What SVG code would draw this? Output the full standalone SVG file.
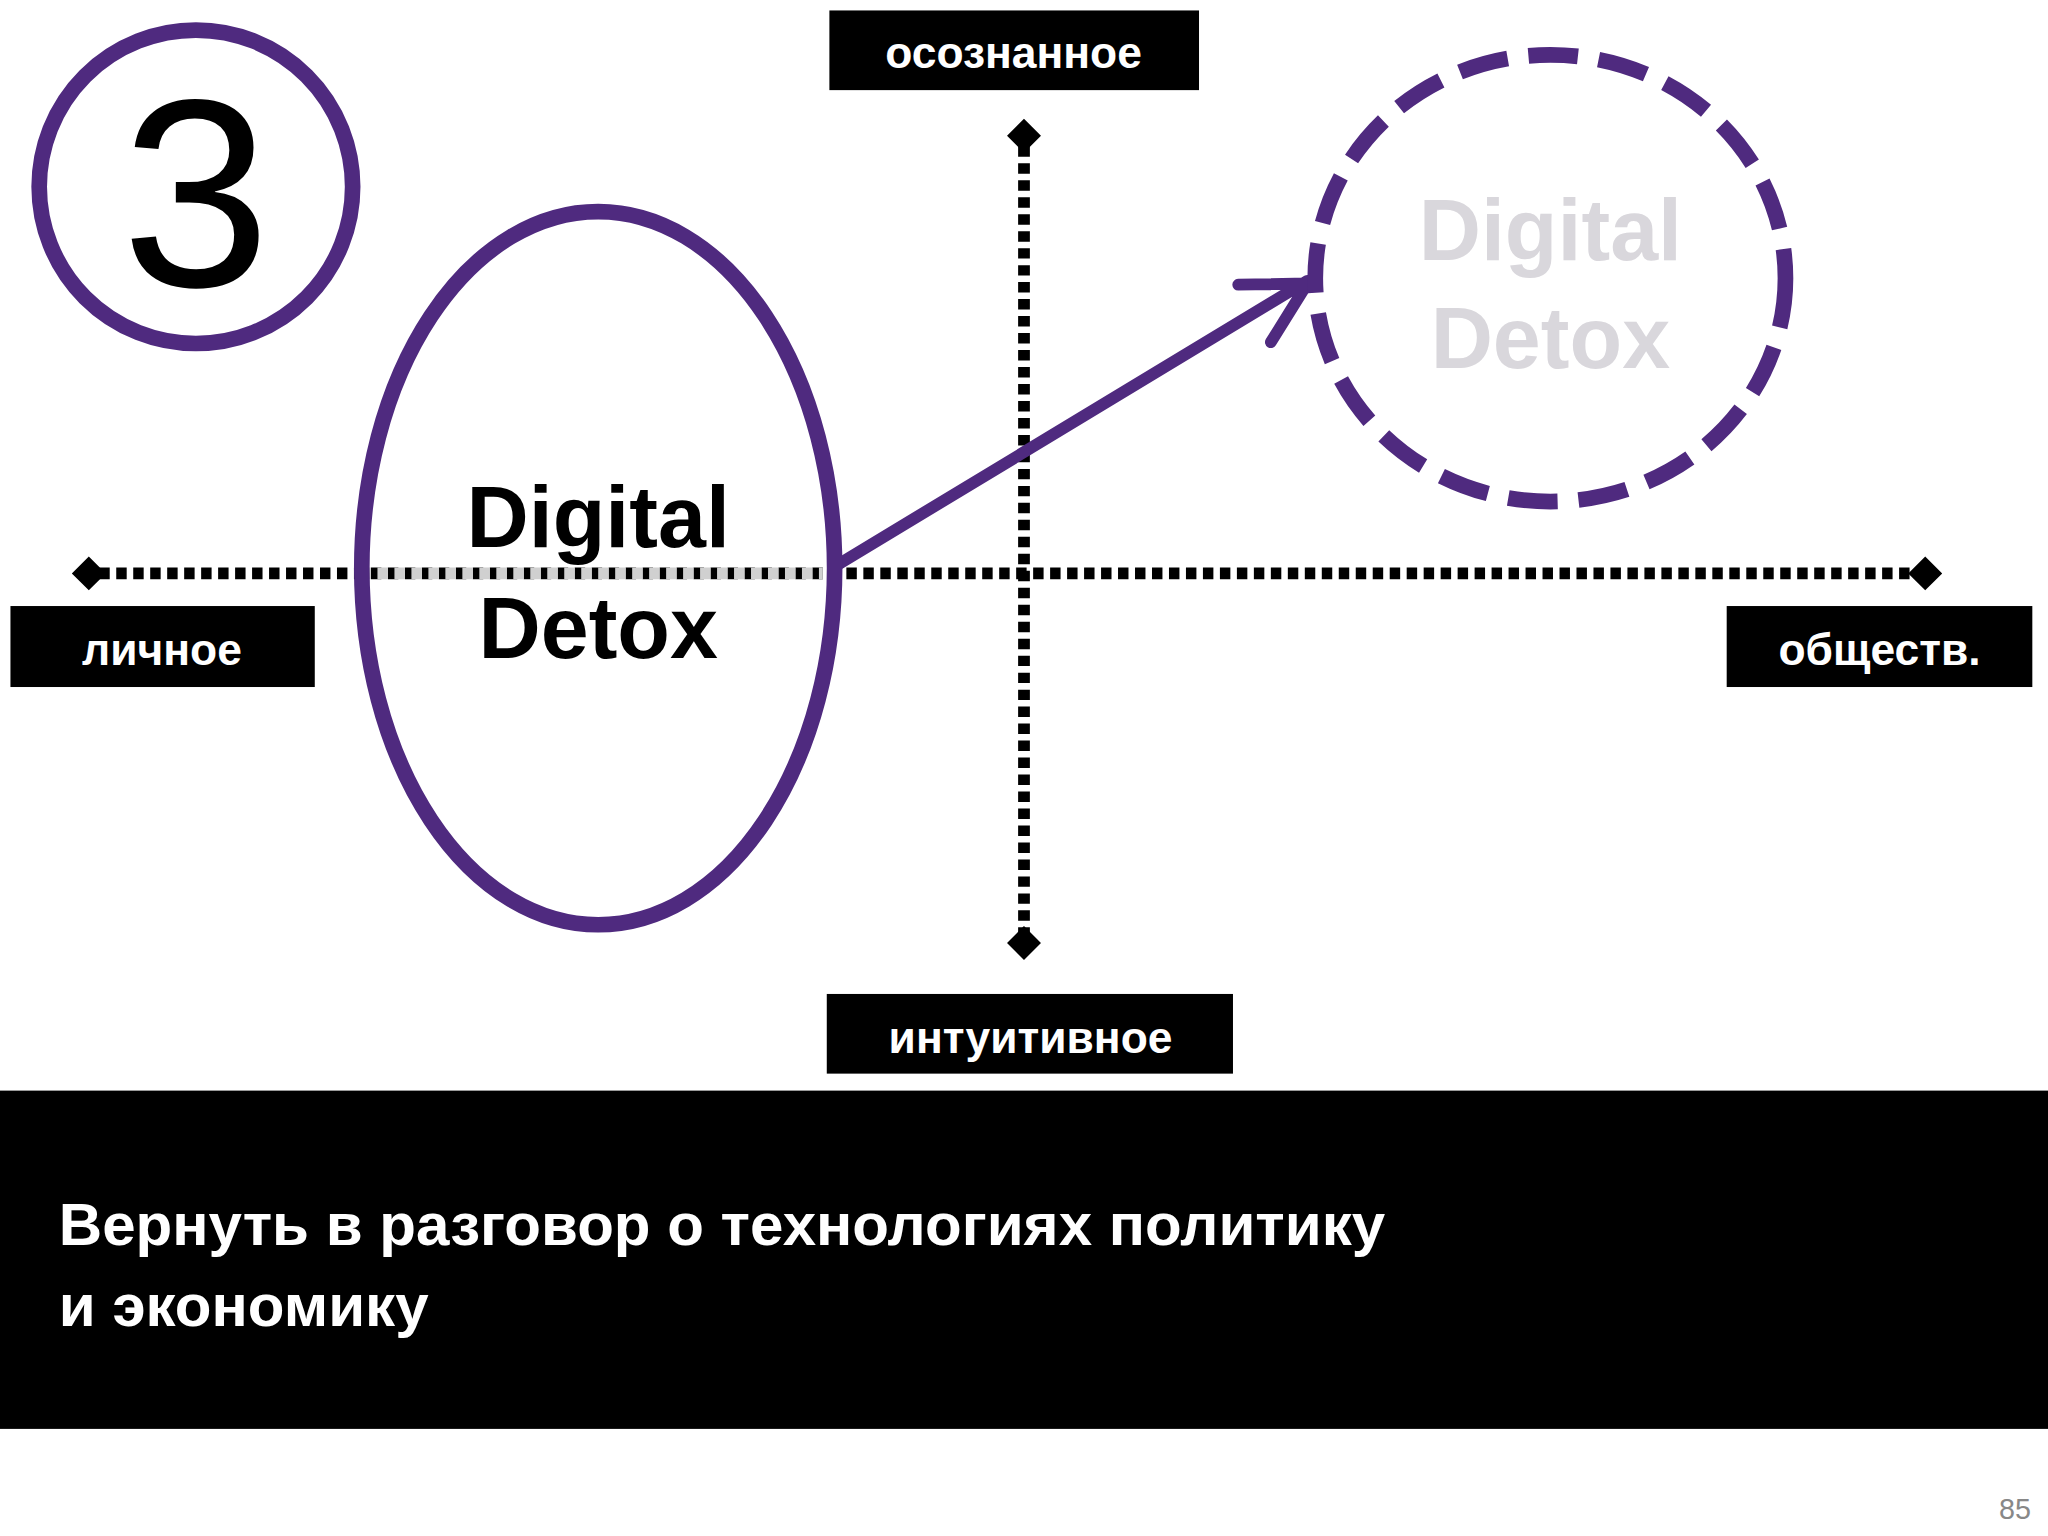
<svg xmlns="http://www.w3.org/2000/svg" width="2048" height="1536" viewBox="0 0 2048 1536">
<style>
.lbl{font-family:"Liberation Sans",Arial,sans-serif;font-weight:bold;fill:#fff;font-size:34px;text-anchor:middle}
.box{fill:#000}
.pur{fill:none;stroke:#4f2a7f;stroke-width:12}
.dot{stroke:#000;stroke-width:9;stroke-dasharray:8 5;fill:none}
.big{font-family:"Liberation Sans",Arial,sans-serif;font-weight:bold;font-size:66px;text-anchor:middle}
</style>
<rect width="2048" height="1536" fill="#fff"/>
<g transform="scale(1.30612)">
<g id="connectors">
<line class="dot" x1="76" y1="439" x2="1468" y2="439"/>
<line x1="276" y1="439" x2="630" y2="439" stroke="#d0d0d0" stroke-width="9" stroke-dasharray="8 5"/>
<line class="dot" x1="784" y1="112" x2="784" y2="714"/>
<path d="M68 426 L81 439 L68 452 L55 439Z M1474 426 L1487 439 L1474 452 L1461 439Z M784 91 L797 104 L784 117 L771 104Z M784 709 L797 722 L784 735 L771 722Z" fill="#000"/>
<path d="M642 432 L1001 215 M948 218 L1001 217 L973 262" fill="none" stroke="#4f2a7f" stroke-width="9" stroke-linecap="round" stroke-linejoin="round"/>
</g>
<g id="num"><circle class="pur" cx="150" cy="143" r="120"/>
<text x="150" y="219" font-family="Liberation Sans,Arial,sans-serif" font-size="205" text-anchor="middle">3</text></g>
<g id="ellipse"><ellipse class="pur" cx="458" cy="435" rx="181" ry="273"/>
<text class="big" x="458" y="419">Digital</text><text class="big" x="458" y="504">Detox</text></g>
<g id="dashed"><ellipse class="pur" cx="1187" cy="213" rx="180" ry="171" stroke-dasharray="38 16"/>
<text class="big" x="1187" y="199" fill="#d9d7dc" font-size="70">Digital</text><text class="big" x="1187" y="282" fill="#d9d7dc" font-size="70">Detox</text></g>
<g id="top"><rect class="box" x="635" y="8" width="283" height="61"/><text class="lbl" x="776" y="52">осознанное</text></g>
<g id="left"><rect class="box" x="8" y="464" width="233" height="62"/><text class="lbl" x="124" y="509">личное</text></g>
<g id="right"><rect class="box" x="1322" y="464" width="234" height="62"/><text class="lbl" x="1439" y="509">обществ.</text></g>
<g id="bottom"><rect class="box" x="633" y="761" width="311" height="61"/><text class="lbl" x="789" y="806">интуитивное</text></g>
<g id="band"><rect class="box" x="0" y="835" width="1568" height="259"/>
<text font-family="Liberation Sans,Arial,sans-serif" font-weight="bold" font-size="46" fill="#fff"><tspan x="45" y="953">Вернуть в разговор о технологиях политику</tspan><tspan x="45" y="1015">и экономику</tspan></text></g>
<text x="1555" y="1163" font-family="Liberation Sans,Arial,sans-serif" font-size="22" fill="#888" text-anchor="end">85</text>
</g>
</svg>
